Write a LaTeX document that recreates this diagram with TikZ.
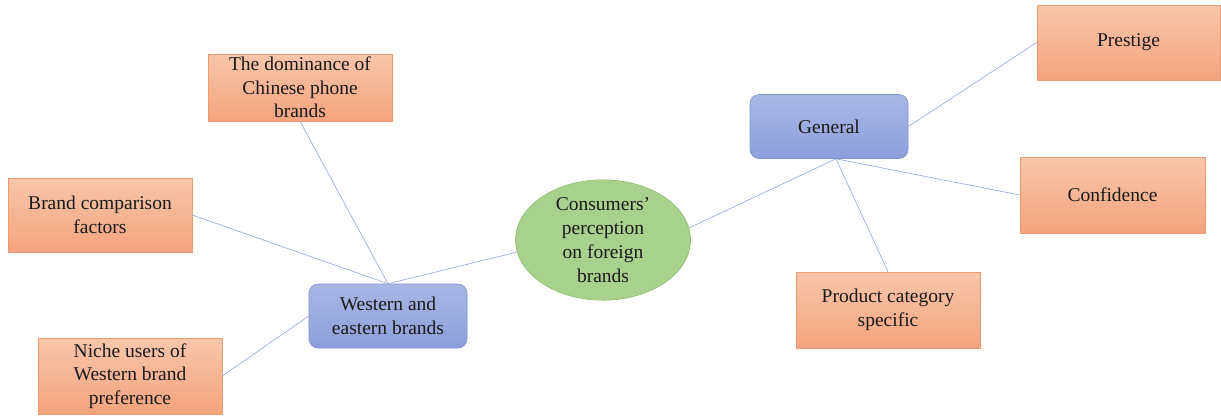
\documentclass[tikz,border=0pt]{standalone}
\usepackage{fontspec}
\setmainfont{Liberation Serif}
\usetikzlibrary{shapes.geometric}
\definecolor{orTop}{HTML}{F8C6AA}
\definecolor{orBot}{HTML}{F4A37E}
\definecolor{orLine}{HTML}{EE9A6C}
\definecolor{blTop}{HTML}{A8B7E6}
\definecolor{blBot}{HTML}{8C9FD9}
\definecolor{blLine}{HTML}{7F93CF}
\definecolor{grFill}{HTML}{A9D18E}
\definecolor{grLine}{HTML}{8CBF6A}
\definecolor{conn}{HTML}{9AB0D8}
\definecolor{txt}{HTML}{1A1A1A}
\tikzset{
  leafbox/.style={draw=orLine, line width=0.6pt, top color=orTop, bottom color=orBot,
    minimum width=184pt, minimum height=75pt, inner sep=0pt, align=center,
    font=\fontsize{19.5}{23.5}\selectfont, text=txt},
  midbox/.style={draw=blLine, line width=0.6pt, top color=blTop, bottom color=blBot,
    rounded corners=9pt, minimum width=158pt, minimum height=64pt, inner sep=0pt, align=center,
    font=\fontsize{19.5}{23.5}\selectfont, text=txt},
  hub/.style={ellipse, draw=grLine, line width=0.6pt, fill=grFill,
    minimum width=175pt, minimum height=111pt, inner sep=0pt, align=center,
    font=\fontsize{19.5}{24}\selectfont, text=txt},
  link/.style={draw=conn, line width=0.7pt}
}
\begin{document}
\begin{tikzpicture}[x=1pt,y=-1pt]
\useasboundingbox (0,0) rectangle (1221,416);
\node[hub] (e) at (603,240) {Consumers’\\perception\\on foreign\\brands};
\node[midbox] (w) at (388,316) {Western and\\eastern brands};
\node[midbox] (g) at (829,126.5) {General};
\node[leafbox, minimum height=67pt] (d) at (300,87.5) {The dominance of\\Chinese phone\\brands};
\node[leafbox, minimum height=74pt] (b) at (100,215) {Brand comparison\\factors};
\node[leafbox, minimum height=76pt] (n) at (130,376) {Niche users of\\Western brand\\preference};
\node[leafbox, minimum width=183pt] (p) at (1128.5,42.5) {Prestige};
\node[leafbox, minimum width=185pt, minimum height=76pt] (c) at (1112.5,195) {Confidence};
\node[leafbox, minimum height=76pt] (pc) at (888,310) {Product category\\specific};
\begin{scope}[on background layer/.style={}]
\end{scope}
\draw[link] (w.north) -- (d.south);
\draw[link] (w.north) -- (b.east);
\draw[link] (w.north) -- (e.188);
\draw[link] (n.east) -- (w.west);
\draw[link] (e.8) -- ([xshift=7pt]g.south);
\draw[link] ([xshift=7pt]g.south) -- (c.west);
\draw[link] ([xshift=7pt]g.south) -- (pc.north);
\draw[link] (g.east) -- (p.west);
\end{tikzpicture}
\end{document}
